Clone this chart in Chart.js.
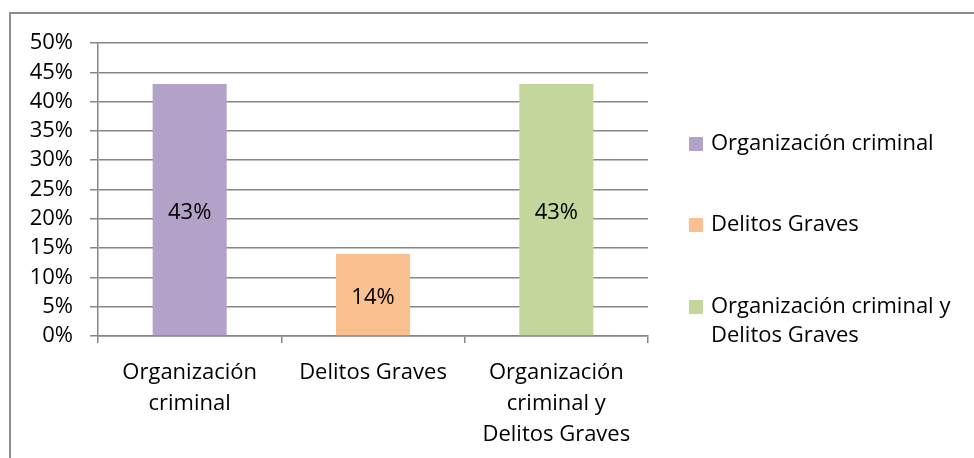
<!DOCTYPE html>
<html>
<head>
<meta charset="utf-8">
<script src="https://cdn.jsdelivr.net/npm/chart.js@4.4.0/dist/chart.umd.min.js"></script>
<style>
  html, body { margin: 0; padding: 0; background: #fff; }
  #wrap { position: relative; width: 974px; height: 458px; overflow: hidden; }
  #frame { position: absolute; left: 9px; top: 12px; width: 1000px; height: 500px; border: 2px solid #8c8c8c; box-sizing: border-box; }
  canvas { position: absolute; left: 0; top: 0; }
</style>
</head>
<body>
<div id="wrap">
  <div id="frame"></div>
  <canvas id="grafico" width="974" height="458"></canvas>
</div>
<script>
// datos
const categorias = ['Organización criminal', 'Delitos Graves', 'Organización criminal y Delitos Graves'];
const valores = [0.43, 0.14, 0.43];
const colores = ['#B3A2C7', '#FAC090', '#C3D69B'];
const etiquetasEje = [['Organización', 'criminal'], ['Delitos Graves'], ['Organización', 'criminal y', 'Delitos Graves']];
const etiquetasLeyenda = [['Organización criminal'], ['Delitos Graves'], ['Organización criminal y', 'Delitos Graves']];

const fuente = '"Open Sans", "Liberation Sans", sans-serif';
const gris = '#868686';

// etiquetas dentro de las barras
const etiquetasBarras = {
  id: 'etiquetasBarras',
  afterDatasetsDraw(chart) {
    const ctx = chart.ctx;
    const meta = chart.getDatasetMeta(0);
    ctx.save();
    ctx.font = '22px ' + fuente;
    ctx.fillStyle = '#000';
    ctx.textAlign = 'center';
    ctx.textBaseline = 'middle';
    meta.data.forEach((barra, i) => {
      const txt = Math.round(valores[i] * 100) + '%';
      ctx.fillText(txt, barra.x, (barra.y + barra.base) / 2 + 3);
    });
    ctx.restore();
  }
};

// leyenda a la derecha (con texto en varias lineas)
const filasLeyenda = [144, 225, 307];
const leyenda = {
  id: 'leyenda',
  afterDraw(chart) {
    const ctx = chart.ctx;
    const x0 = 689;
    ctx.save();
    ctx.font = '22px ' + fuente;
    ctx.textBaseline = 'middle';
    ctx.textAlign = 'left';
    etiquetasLeyenda.forEach((lineas, i) => {
      const y = filasLeyenda[i];
      ctx.fillStyle = colores[i];
      ctx.fillRect(x0, y - 7, 14, 14);
      ctx.fillStyle = '#000';
      lineas.forEach((l, j) => ctx.fillText(l, x0 + 22, y + j * 29));
    });
    ctx.restore();
  }
};

const ctx = document.getElementById('grafico').getContext('2d');
new Chart(ctx, {
  type: 'bar',
  data: {
    labels: categorias,
    datasets: [{
      data: valores,
      backgroundColor: colores,
      categoryPercentage: 1,
      barPercentage: 0.404
    }]
  },
  options: {
    responsive: false,
    animation: false,
    layout: { padding: { left: 0, top: 43, right: 326, bottom: 0 } },
    plugins: {
      legend: { display: false },
      tooltip: { enabled: false }
    },
    scales: {
      x: {
        afterFit(scale) { scale.height = 122; },
        grid: { drawOnChartArea: false, drawTicks: true, tickLength: 7, color: gris, lineWidth: 1.5 },
        border: { color: gris, width: 1.5 },
        ticks: {
          color: '#000',
          font: { family: fuente, size: 22, lineHeight: 1.42 },
          padding: 14,
          maxRotation: 0,
          autoSkip: false,
          callback: (v, i) => etiquetasEje[i]
        }
      },
      y: {
        min: 0,
        max: 0.5,
        afterFit(scale) { scale.width = 98; },
        grid: { color: gris, lineWidth: 1.5, tickLength: 8 },
        border: { color: gris, width: 1.5 },
        ticks: {
          stepSize: 0.05,
          autoSkip: false,
          color: '#000',
          padding: 17,
          font: { family: fuente, size: 22 },
          callback: v => Math.round(v * 100) + '%'
        }
      }
    }
  },
  plugins: [etiquetasBarras, leyenda]
});
</script>
</body>
</html>
